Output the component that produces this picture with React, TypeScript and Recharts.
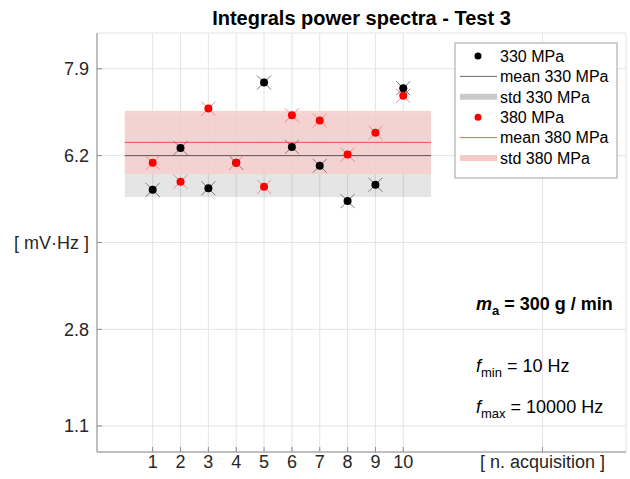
import React from 'react';
import {
  ComposedChart,
  Scatter,
  XAxis,
  YAxis,
  CartesianGrid,
  ReferenceArea,
  ReferenceLine,
} from 'recharts';

// ---------- data ----------
const acquisitions = [1, 2, 3, 4, 5, 6, 7, 8, 9, 10];
const values330 = [5.53, 6.35, 5.56, 6.06, 7.63, 6.37, 6.0, 5.31, 5.63, 7.52];
const values380 = [6.06, 5.69, 7.12, 6.06, 5.59, 6.99, 6.89, 6.22, 6.65, 7.37];
const mean330 = 6.2;
const std330 = 0.81;
const mean380 = 6.46;
const std380 = 0.62;
const bandRange = [0, 11];

const xTicks = [1, 2, 3, 4, 5, 6, 7, 8, 9, 10, 15];
const xTickLabels = ['1', '2', '3', '4', '5', '6', '7', '8', '9', '10', '[ n. acquisition ]'];
const yTicks = [0.91, 2.8, 4.5, 6.2, 7.9];
const yTickLabels = ['1.1', '2.8', '[ mV·Hz ]', '6.2', '7.9'];
const xDomain = [-1, 18];
const yDomain = [0.4, 8.6];

const legendNames = ['330 MPa', 'mean 330 MPa', 'std 330 MPa', '380 MPa', 'mean 380 MPa', 'std 380 MPa'];
const titleText = 'Integrals power spectra - Test 3';

// ---------- derived tables ----------
const data330 = acquisitions.map((x, i) => ({ x, y: values330[i] }));
const data380 = acquisitions.map((x, i) => ({ x, y: values380[i] }));

const FONT = '"Liberation Sans", Arial, Helvetica, sans-serif';
const W = 630;
const H = 479;

const makeMarker = (dotColor: string, crossColor: string) => (props: any) => {
  const { cx, cy } = props;
  if (cx == null || cy == null) return <g />;
  const d = 7;
  return (
    <g>
      <line x1={cx - d} y1={cy - d} x2={cx + d} y2={cy + d} stroke={crossColor} strokeWidth={1} />
      <line x1={cx - d} y1={cy + d} x2={cx + d} y2={cy - d} stroke={crossColor} strokeWidth={1} />
      <circle cx={cx} cy={cy} r={4} fill={dotColor} />
    </g>
  );
};

const marker330 = makeMarker('#000000', '#7a7a7a');
const marker380 = makeMarker('#ff0000', '#f08a8a');

const xFmt = (v: number) => {
  const i = xTicks.indexOf(v);
  return i >= 0 ? xTickLabels[i] : '';
};
const yFmt = (v: number) => {
  const i = yTicks.indexOf(v);
  return i >= 0 ? yTickLabels[i] : '';
};

const AXIS_COLOR = '#8c8c8c';
const TICK_STYLE = { fill: '#262626', fontSize: 18, fontFamily: FONT };

const Overlay = () => {
  const lx = 455;
  const ly = 43;
  const rowY = (i: number) => 56 + i * 20.4;
  const symbols = [
    <circle key="s0" cx={478} cy={rowY(0)} r={3.5} fill="#000" />,
    <line key="s1" x1={460} x2={497} y1={rowY(1)} y2={rowY(1)} stroke="#6a6a6a" strokeWidth={1} />,
    <line key="s2" x1={460} x2={497} y1={rowY(2)} y2={rowY(2)} stroke="#c9c9c9" strokeWidth={6} />,
    <circle key="s3" cx={478} cy={rowY(3)} r={3.5} fill="#ff0000" />,
    <line key="s4" x1={460} x2={497} y1={rowY(4)} y2={rowY(4)} stroke="#f05a5a" strokeWidth={1} />,
    <line key="s5" x1={460} x2={497} y1={rowY(5)} y2={rowY(5)} stroke="#f6c9c9" strokeWidth={6} />,
  ];
  return (
    <svg
      width={W}
      height={H}
      style={{ position: 'absolute', left: 0, top: 0, pointerEvents: 'none' }}
      fontFamily={FONT}
    >
      <text x={361.5} y={25} textAnchor="middle" fontSize={20} fontWeight="bold" fill="#000">
        {titleText}
      </text>
      {/* legend */}
      <rect x={lx} y={ly} width={162} height={135} fill="#fff" stroke="#a0a0a0" strokeWidth={1} />
      {symbols}
      {legendNames.map((n, i) => (
        <text key={n} x={500} y={rowY(i) + 5.8} fontSize={16} fill="#000">
          {n}
        </text>
      ))}
      {/* annotations */}
      <text x={476} y={309.5} fontSize={18} fontWeight="bold" fill="#000">
        <tspan fontStyle="italic">m</tspan>
        <tspan fontSize={13} dy={5}>a</tspan>
        <tspan dy={-5}> = 300 g / min</tspan>
      </text>
      <text x={476} y={371.5} fontSize={18} fill="#000">
        <tspan fontStyle="italic">f</tspan>
        <tspan fontSize={13} dy={5}>min</tspan>
        <tspan dy={-5}> = 10 Hz</tspan>
      </text>
      <text x={476} y={412.5} fontSize={18} fill="#000">
        <tspan fontStyle="italic">f</tspan>
        <tspan fontSize={13} dy={5}>max</tspan>
        <tspan dy={-5}> = 10000 Hz</tspan>
      </text>
    </svg>
  );
};

export default function App() {
  return (
    <div style={{ position: 'absolute', left: 0, top: 0, width: W, height: H, background: '#fff' }}>
      <ComposedChart
        width={W}
        height={H}
        margin={{ top: 33, right: 4, left: 0, bottom: 0 }}
      >
        <CartesianGrid stroke="#e4e4e4" strokeWidth={1} horizontal vertical />
        <XAxis
          dataKey="x"
          type="number"
          domain={xDomain}
          ticks={xTicks}
          allowDataOverflow
          interval={0}
          tickFormatter={xFmt}
          height={27}
          stroke={AXIS_COLOR}
          tickSize={-5}
          tickMargin={8}
          tick={TICK_STYLE}
        />
        <XAxis
          xAxisId="top"
          orientation="top"
          type="number"
          domain={xDomain}
          ticks={xTicks}
          allowDataOverflow
          height={0}
          stroke={AXIS_COLOR}
          tickSize={-5}
          tick={false}
        />
        <YAxis
          type="number"
          domain={yDomain}
          ticks={yTicks}
          allowDataOverflow
          interval={0}
          tickFormatter={yFmt}
          width={97}
          stroke={AXIS_COLOR}
          tickSize={-5}
          tickMargin={13}
          tick={TICK_STYLE}
        />
        <YAxis
          yAxisId="right"
          orientation="right"
          type="number"
          domain={yDomain}
          ticks={yTicks}
          allowDataOverflow
          width={0}
          stroke={AXIS_COLOR}
          tickSize={-5}
          tick={false}
        />
        <ReferenceArea
          x1={bandRange[0]}
          x2={bandRange[1]}
          y1={mean330 - std330}
          y2={mean330 + std330}
          fill="#000000"
          fillOpacity={0.1}
          stroke="none"
        />
        <ReferenceArea
          x1={bandRange[0]}
          x2={bandRange[1]}
          y1={mean380 - std380}
          y2={mean380 + std380}
          fill="#f7cfcf"
          fillOpacity={0.88}
          stroke="none"
        />
        <ReferenceLine
          segment={[
            { x: bandRange[0], y: mean330 },
            { x: bandRange[1], y: mean330 },
          ]}
          stroke="#555555"
          strokeWidth={1}
        />
        <ReferenceLine
          segment={[
            { x: bandRange[0], y: mean380 },
            { x: bandRange[1], y: mean380 },
          ]}
          stroke="#f05050"
          strokeWidth={1}
        />
        <Scatter data={data330} dataKey="y" name="330 MPa" shape={marker330} isAnimationActive={false} />
        <Scatter data={data380} dataKey="y" name="380 MPa" shape={marker380} isAnimationActive={false} />
      </ComposedChart>
      <Overlay />
    </div>
  );
}
